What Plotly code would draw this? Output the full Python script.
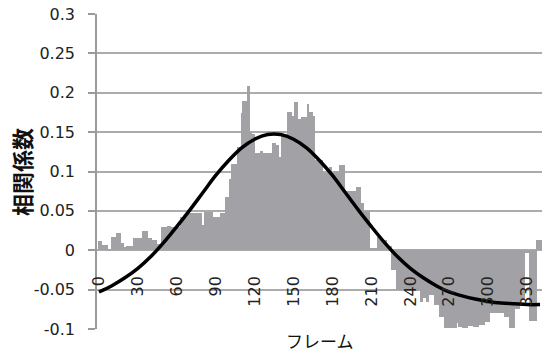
import plotly.graph_objects as go

bar_levels = [0.012, 0.007, 0.002, 0.017, 0.022, 0.009, 0.004, 0.006, 0.015, 0.025,
              0.015, 0.013, 0.008, 0.029, 0.031, 0.030, 0.042, 0.047, 0.032, 0.049,
              0.042, 0.047, 0.068, 0.091, 0.110, 0.131, 0.174, 0.190, 0.209, 0.150,
              0.148, 0.123, 0.126, 0.123, 0.136, 0.134, 0.118, 0.146, 0.176, 0.171,
              0.188, 0.167, 0.169, 0.186, 0.176, 0.171, 0.115, 0.098, 0.106, 0.100,
              0.108, 0.075, 0.075, 0.080, 0.060, 0.050, 0.003, 0.017, 0.013, 0.006,
              -0.025, -0.051, -0.066, -0.061, -0.066, -0.057, -0.070, -0.085, -0.099, -0.093,
              -0.097, -0.099, -0.096, -0.097, -0.095, -0.091, -0.080, -0.085, -0.099, -0.074,
              -0.063, -0.004, -0.090, 0.013]
bar_run_lengths = [3, 4, 3, 4, 3, 3, 2, 5, 7, 4,
                   3, 4, 4, 4, 3, 7, 6, 11, 2, 6,
                   6, 4, 3, 2, 4, 3, 1, 4, 2, 1,
                   3, 4, 2, 7, 3, 2, 2, 5, 3, 2,
                   3, 3, 4, 1, 3, 2, 6, 5, 2, 6,
                   4, 6, 3, 3, 3, 4, 6, 3, 4, 4,
                   4, 18, 2, 3, 2, 4, 4, 4, 9, 2,
                   3, 4, 4, 4, 5, 4, 11, 4, 4, 4,
                   4, 3, 6, 4]

# Fitted curve
fit_frames = [0, 10, 20, 30, 40, 50, 60, 70, 80, 90, 100, 110, 120, 130, 140, 150, 160,
              170, 180, 190, 200, 210, 220, 230, 240, 250, 260, 270, 280, 290, 300, 310,
              320, 330, 340]
fit_values = [-0.053, -0.045, -0.035, -0.023, -0.008, 0.010, 0.030, 0.051, 0.073, 0.095,
              0.114, 0.130, 0.141, 0.147, 0.147, 0.141, 0.130, 0.114, 0.095, 0.073,
              0.051, 0.030, 0.010, -0.008, -0.023, -0.035, -0.045, -0.053, -0.058, -0.062,
              -0.065, -0.067, -0.068, -0.069, -0.069]

x_tick_vals = [0, 30, 60, 90, 120, 150, 180, 210, 240, 270, 300, 330]
x_tick_text = ["0", "30", "60", "90", "120", "150", "180", "210", "240", "270", "300", "330"]
y_tick_vals = [-0.1, -0.05, 0, 0.05, 0.1, 0.15, 0.2, 0.25, 0.3]
y_tick_text = ["-0.1", "-0.05", "0", "0.05", "0.1", "0.15", "0.2", "0.25", "0.3"]

bar_values = []
for level, n in zip(bar_levels, bar_run_lengths):
    bar_values.extend([level] * n)
frames = list(range(len(bar_values)))

fig = go.Figure()
fig.add_trace(go.Bar(x=frames, y=bar_values, marker=dict(color="rgb(162,162,166)", line=dict(width=0)),
                     showlegend=False))
fig.add_trace(go.Scatter(x=fit_frames, y=fit_values, mode="lines",
                         line=dict(color="black", width=3.5, shape="spline"), showlegend=False))

tick_font = dict(family="DejaVu Sans", size=16, color="#222222")
fig.update_layout(
    width=542, height=353,
    margin=dict(l=97, r=0, t=14, b=24),
    paper_bgcolor="white", plot_bgcolor="white",
    bargap=0,
    xaxis=dict(range=[-1.5, 341.5], anchor="free", position=0.181,
               tickvals=x_tick_vals, ticktext=x_tick_text, tickangle=-90,
               showgrid=False, zeroline=False, showline=False, ticks="",
               tickfont=tick_font),
    yaxis=dict(range=[-0.1, 0.3], tickvals=y_tick_vals, ticktext=y_tick_text,
               showgrid=True, gridcolor="#ababab", gridwidth=1.5, zeroline=False,
               showline=True, linecolor="#9a9a9a", linewidth=1.5,
               ticks="outside", ticklen=7, tickcolor="#9a9a9a", tickwidth=1.5,
               ticklabelstandoff=10, tickfont=tick_font),
    annotations=[
        dict(text="フレーム", xref="paper", yref="paper", x=0.5, y=-0.035,
             xanchor="center", yanchor="middle", showarrow=False,
             font=dict(family="Noto Sans CJK JP", size=17, color="#111111")),
        dict(text="<b>相関係数</b>", xref="paper", yref="paper", x=-0.172, y=0.5,
             xanchor="center", yanchor="middle", showarrow=False, textangle=-90,
             font=dict(family="Noto Sans CJK JP", size=22, color="#111111")),
    ],
)

fig.write_html("out.html", config={"displayModeBar": False},
               post_script="document.body.style.margin='0';")
